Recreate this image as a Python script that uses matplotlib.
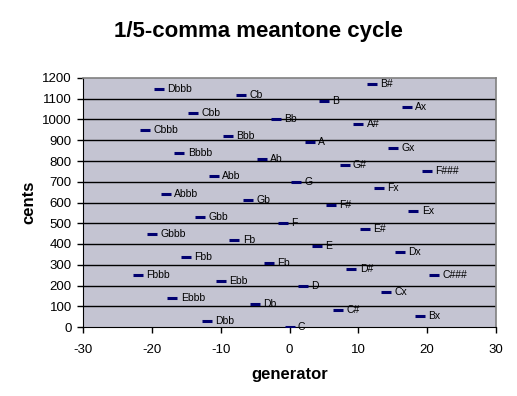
import matplotlib.pyplot as plt

plt.rcParams["font.family"] = ["Liberation Sans", "DejaVu Sans"]
plt.rcParams["axes.unicode_minus"] = False

# generator step and resulting pitch (cents, reduced to the octave)
generator = [-22, -21, -20, -19, -18, -17, -16, -15, -14, -13, -12,
             -11, -10, -9, -8, -7, -6, -5, -4, -3, -2, -1,
             0, 1, 2, 3, 4, 5, 6, 7, 8, 9, 10,
             11, 12, 13, 14, 15, 16, 17, 18, 19, 20, 21]
cents = [251.6, 949.3, 446.9, 1144.6, 642.2, 139.9, 837.5, 335.2, 1032.8, 530.5, 28.2,
         725.8, 223.5, 921.1, 418.8, 1116.4, 614.1, 111.7, 809.4, 307.0, 1004.7, 502.4,
         0.0, 697.7, 195.3, 893.0, 390.6, 1088.3, 585.9, 83.6, 781.2, 278.9, 976.5,
         474.2, 1171.9, 669.5, 167.2, 864.8, 362.5, 1060.1, 557.8, 55.4, 753.1, 250.7]
names = ["Fbbb", "Cbbb", "Gbbb", "Dbbb", "Abbb", "Ebbb", "Bbbb", "Fbb", "Cbb", "Gbb", "Dbb",
         "Abb", "Ebb", "Bbb", "Fb", "Cb", "Gb", "Db", "Ab", "Eb", "Bb", "F",
         "C", "G", "D", "A", "E", "B", "F#", "C#", "G#", "D#", "A#",
         "E#", "B#", "Fx", "Cx", "Gx", "Dx", "Ax", "Ex", "Bx", "F###", "C###"]

fig = plt.figure(figsize=(5.17, 3.96), dpi=100)
ax = fig.add_axes([83 / 517, 1 - 327 / 396, 413 / 517, 249 / 396])
ax.set_facecolor("#c4c4d2")

ax.plot(generator, cents, linestyle="none", marker="_", markersize=7,
        markeredgewidth=2.2, color="#000070", zorder=3)
for g, c, n in zip(generator, cents, names):
    ax.annotate(n, (g, c), xytext=(6, 0), textcoords="offset points",
                ha="left", va="center", fontsize=7.5, zorder=4)

ax.set_xlim(-30, 30)
ax.set_ylim(0, 1200)
ax.set_xticks(range(-30, 31, 10))
ax.set_yticks(range(0, 1201, 100))
for y in range(100, 1200, 100):
    ax.axhline(y, color="black", linewidth=1, zorder=1)

for side in ("top", "right"):
    ax.spines[side].set_color("#808080")
    ax.spines[side].set_linewidth(1.2)
for side in ("left", "bottom"):
    ax.spines[side].set_color("black")
ax.tick_params(axis="both", direction="out", length=4, width=1, labelsize=9.5)
ax.tick_params(axis="x", pad=8)
ax.tick_params(axis="y", pad=4)

ax.set_xlabel("generator", fontsize=12, fontweight="bold", labelpad=8)
ax.set_ylabel("cents", fontsize=12, fontweight="bold", labelpad=4)
fig.text(0.5, 1 - 31 / 396, "1/5-comma meantone cycle", ha="center", va="center",
         fontsize=16, fontweight="bold")

fig.savefig("out.png", dpi=100)
